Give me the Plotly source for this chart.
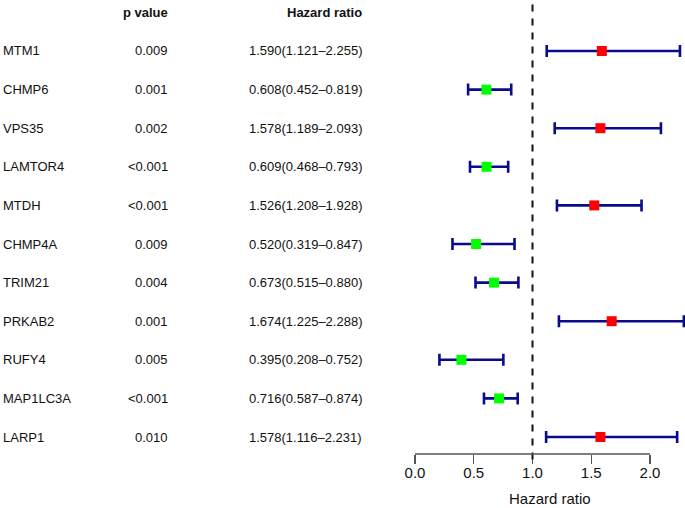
import plotly.graph_objects as go

genes = ["MTM1", "CHMP6", "VPS35", "LAMTOR4", "MTDH", "CHMP4A", "TRIM21",
         "PRKAB2", "RUFY4", "MAP1LC3A", "LARP1"]
p_values = ["0.009", "0.001", "0.002", "<0.001", "<0.001", "0.009", "0.004",
            "0.001", "0.005", "<0.001", "0.010"]
hr = [1.590, 0.608, 1.578, 0.609, 1.526, 0.520, 0.673, 1.674, 0.395, 0.716, 1.578]
hr_low = [1.121, 0.452, 1.189, 0.468, 1.208, 0.319, 0.515, 1.225, 0.208, 0.587, 1.116]
hr_high = [2.255, 0.819, 2.093, 0.793, 1.928, 0.847, 0.880, 2.288, 0.752, 0.874, 2.231]
tick_vals = [0.0, 0.5, 1.0, 1.5, 2.0]
tick_text = ["0.0", "0.5", "1.0", "1.5", "2.0"]
x_title = "Hazard ratio"

W, H = 685, 508
B = 54
FONT = "Liberation Sans, Arial, Helvetica, sans-serif"
rows = list(range(1, len(genes) + 1))
colors = ["#FF0000" if v > 1 else "#00FF00" for v in hr]

fig = go.Figure()
fig.add_trace(go.Scatter(
    x=hr, y=rows, mode="markers",
    marker=dict(symbol="square", size=10, color=colors, line=dict(width=0)),
    error_x=dict(type="data", symmetric=False,
                 array=[h - m for h, m in zip(hr_high, hr)],
                 arrayminus=[m - l for m, l in zip(hr, hr_low)],
                 color="#0A0A8C", thickness=2.6, width=6),
    cliponaxis=False, showlegend=False, hoverinfo="skip",
))

ann = []
def add_text(x_px, y, text, anchor, bold=False, size=13):
    ann.append(dict(x=x_px / W, xref="paper", y=y, yref="y", text=("<b>%s</b>" % text) if bold else text,
                    xanchor=anchor, yanchor="middle", showarrow=False,
                    font=dict(family=FONT, size=size, color="#111111")))

add_text(170, 0, "p value", "right", bold=True)
add_text(364, 0, "Hazard ratio", "right", bold=True)
for r, g, p, h, lo, hi in zip(rows, genes, p_values, hr, hr_low, hr_high):
    add_text(1, r, g, "left")
    add_text(170, r, p, "right")
    add_text(364, r, "%.3f(%.3f\u2013%.3f)" % (h, lo, hi), "right")

x0_px = 415
plot_h = H - B
ann.append(dict(x=(x0_px + W) / 2 / W, xref="paper", y=-44 / plot_h, yref="paper", text=x_title,
                xanchor="center", yanchor="middle", showarrow=False,
                font=dict(family=FONT, size=15, color="#111111")))

shapes = [
    dict(type="line", xref="x", yref="y domain", x0=1, x1=1, y0=-0.012, y1=1,
         line=dict(color="#111111", width=2, dash="7px,7px")),
    dict(type="line", xref="x", yref="y domain", x0=tick_vals[0], x1=tick_vals[-1], y0=0, y1=0,
         line=dict(color="#555555", width=1.3)),
]

xmax = 2.0 * (W - x0_px) / (650 - x0_px)

fig.update_layout(
    width=W, height=H, autosize=False,
    margin=dict(l=0, r=0, t=0, b=B, pad=0, autoexpand=False),
    paper_bgcolor="white", plot_bgcolor="white",
    annotations=ann, shapes=shapes,
    xaxis=dict(domain=[x0_px / W, 1], range=[0, xmax], showgrid=False, zeroline=False,
               showline=False, tickmode="array", tickvals=tick_vals, ticktext=tick_text,
               ticks="outside", ticklen=9, tickwidth=1.3, tickcolor="#555555", automargin=False,
               ticklabelstandoff=-4,
               tickfont=dict(family=FONT, size=15, color="#111111")),
    yaxis=dict(range=[11.44, -0.321], showgrid=False, zeroline=False, showline=False, automargin=False,
               showticklabels=False, ticks=""),
)

fig.write_html("out.html", config={"displayModeBar": False, "staticPlot": True},
               post_script="document.body.style.margin='0';document.body.style.overflow='hidden';")
